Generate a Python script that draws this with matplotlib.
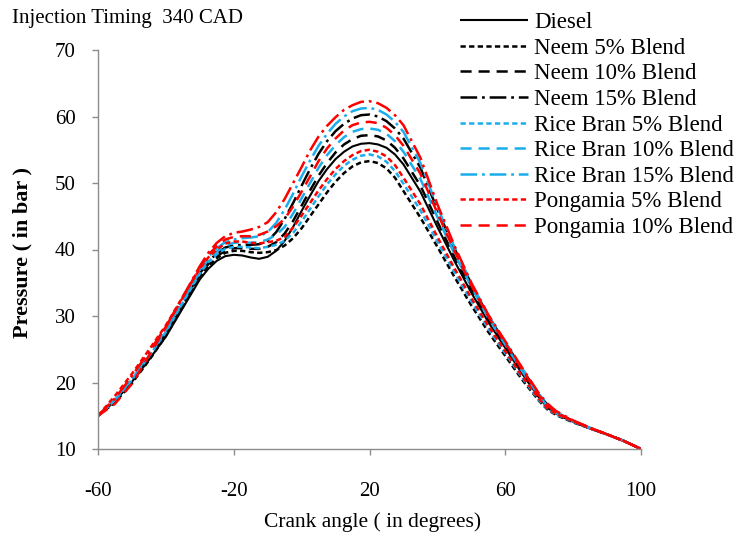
import matplotlib
matplotlib.use("Agg")
import matplotlib.pyplot as plt

plt.rcParams['font.family'] = ['Liberation Serif', 'DejaVu Serif']
plt.rcParams['lines.scale_dashes'] = False

# Crank angle grid (degrees)
crank_angle = [-60, -55, -50, -45, -40, -35, -30,
               -27.5, -25, -22.5, -20, -17.5, -15, -12.5, -10, -7.5, -5, -2.5, 0,
               2.5, 5, 7.5, 10, 12.5, 15, 17.5, 20, 22.5, 25, 27.5, 30,
               35, 40, 45, 50, 55, 60, 65, 70, 72.5, 75, 80, 85, 90, 95, 100]

diesel = [15.0, 17.2, 20.1, 23.4, 26.9, 31.2, 35.5,
          37.1, 38.3, 39.0, 39.2, 39.1, 38.8, 38.6, 38.9, 39.8, 41.3, 43.4, 45.8,
          48.1, 50.3, 52.1, 53.6, 54.7, 55.5, 55.9, 56.0, 55.8, 55.3, 54.3, 52.8,
          48.7, 43.4, 38.3, 33.5, 29.1, 25.2, 21.3, 17.7, 16.2, 15.3, 14.1, 13.1, 12.2, 11.2, 10.0]
neem5 = [15.0, 17.0, 19.9, 23.3, 27.0, 31.4, 35.8,
         37.5, 38.7, 39.5, 39.8, 39.8, 39.6, 39.5, 39.6, 39.9, 40.6, 41.7, 43.2,
         45.0, 46.8, 48.6, 50.2, 51.5, 52.5, 53.1, 53.3, 53.0, 52.2, 50.8, 48.8,
         44.8, 40.4, 35.9, 31.6, 27.6, 24.0, 20.4, 17.2, 15.9, 15.1, 14.0, 13.1, 12.2, 11.2, 10.0]
neem10 = [15.0, 17.2, 20.2, 23.6, 27.3, 31.7, 36.1,
          37.8, 39.0, 39.8, 40.2, 40.2, 40.1, 40.1, 40.4, 41.1, 42.4, 44.3, 46.6,
          48.9, 51.1, 53.0, 54.6, 55.8, 56.6, 57.1, 57.2, 57.0, 56.4, 55.3, 53.7,
          49.6, 44.2, 38.9, 34.0, 29.5, 25.5, 21.5, 17.8, 16.3, 15.3, 14.1, 13.1, 12.2, 11.2, 10.0]
neem15 = [15.0, 17.3, 20.3, 23.7, 27.4, 31.9, 36.4,
          38.2, 39.4, 40.3, 40.6, 40.7, 40.7, 40.8, 41.3, 42.6, 44.6, 47.0, 49.6,
          52.1, 54.4, 56.3, 57.8, 58.9, 59.7, 60.2, 60.3, 60.0, 59.3, 58.2, 56.7,
          52.3, 46.0, 40.2, 34.8, 30.0, 26.0, 22.0, 18.1, 16.6, 15.5, 14.2, 13.1, 12.2, 11.2, 10.0]
rice5 = [15.0, 17.3, 20.4, 23.9, 27.6, 32.0, 36.4,
         38.1, 39.3, 40.1, 40.4, 40.4, 40.3, 40.2, 40.4, 40.7, 41.3, 42.5, 44.2,
         46.1, 48.0, 49.8, 51.3, 52.6, 53.5, 54.1, 54.3, 54.0, 53.2, 51.8, 49.9,
         45.9, 41.2, 36.6, 32.2, 28.1, 24.4, 20.7, 17.3, 16.0, 15.2, 14.1, 13.1, 12.2, 11.2, 10.0]
rice10 = [15.0, 17.4, 20.5, 24.0, 27.8, 32.2, 36.7,
          38.5, 39.7, 40.6, 41.0, 41.1, 41.0, 41.1, 41.5, 42.2, 43.4, 45.4, 47.7,
          50.0, 52.3, 54.2, 55.7, 56.9, 57.7, 58.1, 58.2, 58.0, 57.4, 56.3, 54.7,
          50.6, 44.9, 39.4, 34.4, 29.7, 25.7, 21.7, 17.9, 16.4, 15.4, 14.2, 13.1, 12.2, 11.2, 10.0]
rice15 = [15.0, 17.5, 20.6, 24.2, 28.0, 32.5, 37.0,
          38.9, 40.2, 41.1, 41.5, 41.7, 41.8, 42.0, 42.6, 44.0, 46.0, 48.4, 51.0,
          53.4, 55.6, 57.4, 58.9, 60.0, 60.8, 61.2, 61.3, 61.0, 60.3, 59.2, 57.7,
          53.0, 46.4, 40.4, 34.9, 30.1, 26.1, 22.1, 18.2, 16.7, 15.5, 14.2, 13.2, 12.2, 11.2, 10.0]
pong5 = [15.0, 18.0, 21.3, 24.9, 28.6, 32.9, 37.1,
         38.8, 40.0, 40.9, 41.2, 41.2, 41.0, 40.9, 41.1, 41.3, 41.9, 43.3, 45.1,
         47.0, 48.9, 50.6, 52.1, 53.3, 54.2, 54.8, 55.0, 54.7, 54.0, 52.7, 50.8,
         46.8, 41.9, 37.2, 32.7, 28.5, 24.7, 20.9, 17.5, 16.1, 15.3, 14.2, 13.1, 12.2, 11.2, 10.0]
pong10 = [15.0, 16.8, 19.8, 24.0, 28.3, 32.8, 37.3,
          39.2, 40.5, 41.5, 41.9, 42.0, 42.0, 42.2, 42.7, 43.5, 44.6, 46.5, 48.7,
          51.0, 53.3, 55.2, 56.7, 57.9, 58.7, 59.1, 59.2, 59.0, 58.3, 57.2, 55.6,
          51.4, 45.5, 39.8, 34.6, 29.9, 25.9, 21.9, 18.0, 16.5, 15.5, 14.2, 13.2, 12.2, 11.2, 10.0]
pong15 = [15.0, 17.6, 21.0, 24.6, 28.4, 32.9, 37.5,
          39.5, 41.0, 42.0, 42.5, 42.7, 43.0, 43.4, 44.1, 45.6, 47.6, 50.0, 52.4,
          54.9, 57.0, 58.6, 59.9, 61.0, 61.7, 62.2, 62.3, 62.0, 61.3, 60.2, 58.7,
          53.8, 46.8, 40.6, 35.0, 30.2, 26.2, 22.2, 18.3, 16.8, 15.7, 14.3, 13.2, 12.2, 11.2, 10.0]

series_labels = ["Diesel", "Neem 5% Blend", "Neem 10% Blend", "Neem 15% Blend",
                 "Rice Bran 5% Blend", "Rice Bran 10% Blend", "Rice Bran 15% Blend",
                 "Pongamia 5% Blend", "Pongamia 10% Blend", None]
series_values = [diesel, neem5, neem10, neem15, rice5, rice10, rice15, pong5, pong10, pong15]

x_ticks = [-60, -20, 20, 60, 100]
y_ticks = [10, 20, 30, 40, 50, 60, 70]

BLACK = "#000000"
CYAN = "#1AADEB"
RED = "#FF0000"
dotted = (0, (3.8, 2.4))
dashed = (0, (8.0, 5.0))
dashdot = (0, (12.0, 3.5, 2.0, 3.5))
styles = [
    (BLACK, '-', 1.5),
    (BLACK, dotted, 1.8), (BLACK, dashed, 1.8), (BLACK, dashdot, 1.8),
    (CYAN, dotted, 1.8), (CYAN, dashed, 1.8), (CYAN, dashdot, 1.8),
    (RED, dotted, 1.8), (RED, dashed, 1.8), (RED, dashdot, 1.8),
]

W, H = 752, 537
fig = plt.figure(figsize=(W / 100, H / 100), dpi=100)
ax = fig.add_axes([98 / W, 1 - 449 / H, (641 - 98) / W, (449 - 50) / H])

handles = []
for vals, lab, (c, ls, lw) in zip(series_values, series_labels, styles):
    ln, = ax.plot(crank_angle, vals, color=c, linestyle=ls, linewidth=lw,
                  solid_capstyle='butt', dash_capstyle='butt', solid_joinstyle='round')
    if lab is not None:
        handles.append((ln, lab))

ax.set_xlim(-60, 100)
ax.set_ylim(10, 70)
ax.set_xticks(x_ticks)
ax.set_yticks(y_ticks)
ax.set_xticklabels([str(v) for v in x_ticks])
ax.set_yticklabels([str(v) for v in y_ticks])
for s in ['top', 'right']:
    ax.spines[s].set_visible(False)
for s in ['left', 'bottom']:
    ax.spines[s].set_color('#8C8C8C')
    ax.spines[s].set_linewidth(1.0)
ax.tick_params(axis='both', colors='#8C8C8C', direction='out', length=4, width=1.0,
               labelsize=15, labelcolor='black')
ax.tick_params(axis='x', pad=20)
ax.tick_params(axis='y', pad=12)

fig.text(12 / W, 1 - 18 / H, "Injection Timing  340 CAD", fontsize=15, ha='left', va='center')
fig.text(373 / W, 1 - 522 / H, "Crank angle ( in degrees)", fontsize=15.5, ha='center', va='center')
fig.text(22 / W, 1 - 253 / H, "Pressure ( in bar )", fontsize=16, fontweight='bold',
         rotation=90, ha='center', va='center')

fig.legend([h for h, _ in handles], [l for _, l in handles], loc='upper left',
           bbox_to_anchor=(460 / W, 1 - 12 / H), frameon=False, fontsize=16.5,
           handlelength=2.95, handletextpad=0.3, labelspacing=0.2, borderpad=0,
           borderaxespad=0)

fig.savefig("out.png", dpi=100)
